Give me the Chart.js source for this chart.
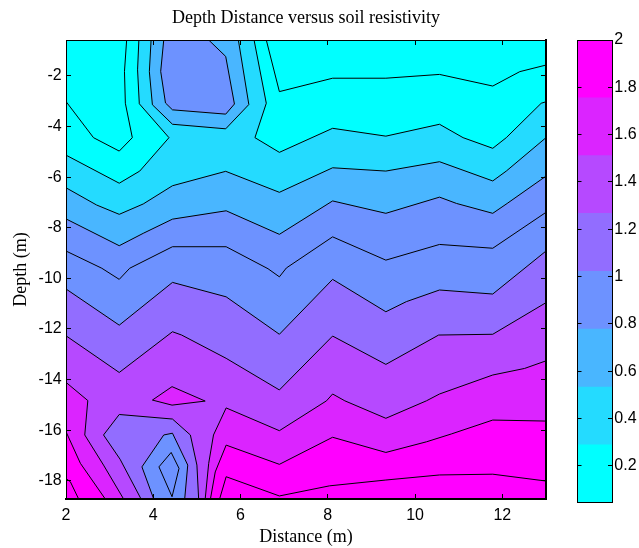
<!DOCTYPE html>
<html><head><meta charset="utf-8">
<script src="https://cdn.jsdelivr.net/npm/chart.js@4.4.1/dist/chart.umd.min.js"></script>
<style>
html,body{margin:0;padding:0;background:#fff;}
#wrap{position:relative;width:639px;height:548px;}
#main{position:absolute;left:0;top:0;}
#cb{position:absolute;left:560px;top:0;}
</style></head><body>
<div id="wrap"><canvas id="main" width="612" height="548"></canvas><canvas id="cb" width="79" height="548"></canvas></div>
<script>
// ---- data (distance m, depth m) ----
const xRange = [2, 13];
const yRange = [-18.72, -0.58];
const xTicks = [2, 4, 6, 8, 10, 12];
const yTicks = [-18, -16, -14, -12, -10, -8, -6, -4, -2];
const cbRange = [0.044, 2];
const cbTicks = [0.2, 0.4, 0.6, 0.8, 1, 1.2, 1.4, 1.6, 1.8, 2];
const cbEdges = [0.044, 0.289, 0.533, 0.778, 1.022, 1.267, 1.511, 1.756, 2.0];

// contour lines
const lineA  = [[2,-3.01],[2.63,-4.44],[3.22,-4.97],[3.52,-4.44],[3.36,-3.08],[3.34,-1.82],[3.39,-0.58]];
const lineB  = [[2,-5.13],[3.22,-6.24],[3.69,-5.76],[4.36,-4.44],[3.68,-3.10],[3.64,-1.76],[3.67,-0.58]];
const ring   = [[3.95,-0.58],[3.91,-1.83],[3.98,-3.14],[4.44,-3.91],[5.66,-4.09],[6.19,-3.13],[5.95,-0.58]];
const innerBlob = [[4.24,-0.58],[4.17,-1.82],[4.28,-3.07],[4.44,-3.34],[5.66,-3.51],[5.86,-3.11],[5.66,-1.23],[5.27,-0.58]];
const lineT1 = [[6.59,-0.58],[6.89,-2.62],[8.11,-2.09],[9.33,-2.09],[10.56,-1.94],[11.78,-2.40],[12.40,-1.83],[13,-1.57]];
const lineT2 = [[6.31,-0.58],[6.59,-3.08],[6.33,-4.44],[6.89,-5.02],[8.11,-4.07],[9.33,-4.38],[10.56,-3.91],[11.10,-4.44],[11.78,-4.86],[12.09,-4.44],[12.89,-3.08],[13,-3.02]];
const lineT3 = [[2,-6.42],[2.70,-7.10],[3.22,-7.47],[3.77,-7.06],[4.44,-6.34],[5.66,-5.77],[6.89,-6.60],[8.11,-5.63],[9.33,-5.76],[10.56,-5.39],[11.78,-6.15],[12.09,-5.76],[13,-4.44]];
const lineT4 = [[2,-7.65],[3.22,-8.71],[3.77,-8.22],[4.44,-7.66],[5.67,-7.33],[6.89,-8.26],[8.11,-6.94],[9.33,-7.43],[10.56,-6.79],[10.95,-7.04],[11.78,-7.43],[12.11,-7.04],[13,-5.96]];
const lineT5 = [[2,-8.92],[2.82,-9.60],[3.22,-10.04],[3.46,-9.60],[4.44,-8.75],[5.67,-8.75],[6.63,-9.62],[6.89,-9.94],[7.05,-9.59],[8.11,-8.36],[9.33,-9.28],[10.56,-8.66],[11.78,-8.81],[13,-7.39]];
const lineT6 = [[2,-10.42],[3.22,-11.85],[4.44,-10.16],[5.67,-10.73],[6.89,-12.21],[8.11,-10.04],[9.33,-11.32],[9.80,-10.92],[10.56,-10.46],[11.78,-10.62],[13,-8.92]];
const lineT7 = [[2,-12.27],[3.22,-13.72],[4.44,-12.11],[4.65,-12.24],[5.67,-13.16],[6.89,-14.41],[8.11,-12.28],[9.33,-13.40],[10.54,-12.24],[11.78,-12.21],[13,-10.96]];
const lineT8 = [[13,-13.26],[12.51,-13.56],[11.78,-13.82],[10.56,-14.57],[10.26,-14.84],[9.33,-15.53],[8.39,-14.84],[8.11,-14.57],[7.97,-14.84],[6.89,-16.02],[5.67,-15.12],[5.38,-16.19],[5.27,-17.31],[5.19,-18.72]];
const lineLa = [[2,-14.11],[2.50,-14.83],[2.43,-16.19],[2.86,-17.38],[3.32,-18.72]];
const triangle = [[3.98,-14.81],[4.43,-14.28],[5.19,-14.85],[4.43,-15.01],[3.98,-14.81]];
const lineT9 = [[13,-15.64],[11.78,-15.60],[10.83,-16.15],[10.26,-16.46],[9.33,-16.88],[8.11,-16.28],[6.89,-17.35],[5.67,-16.59],[5.42,-17.65],[5.31,-18.72]];
const lineLb = [[2,-16.06],[2.33,-17.31],[2.90,-18.72]];
const lineLc = [[2,-17.91],[2.10,-18.04],[2.29,-18.72]];
const lineT10 = [[13,-18.01],[11.78,-17.74],[10.56,-17.77],[9.33,-17.97],[8.04,-18.20],[6.89,-18.60],[5.67,-17.84],[5.52,-18.72]];
const blobOuter = [[3.72,-18.72],[3.24,-17.15],[2.86,-16.19],[3.22,-15.38],[4.44,-15.56],[4.85,-16.19],[5.00,-17.38],[5.04,-18.72]];
const blobMid = [[4.01,-18.72],[3.74,-17.45],[4.24,-16.19],[4.44,-16.12],[4.79,-17.38],[4.72,-18.72]];
const diamond = [[4.13,-17.45],[4.41,-16.88],[4.59,-17.51],[4.43,-18.63],[4.13,-17.45]];

// ---- styles ----
const bandColors = ['rgb(0,255,255)','rgb(36,219,255)','rgb(73,182,255)','rgb(109,146,255)',
                    'rgb(146,109,255)','rgb(182,73,255)','rgb(219,36,255)','rgb(255,0,255)'];
const TXT = '#000';
const tickFont = {family: "'Liberation Sans', Arial, sans-serif", size: 16};
const serifFont = {family: "'Liberation Serif', 'Times New Roman', serif", size: 18, weight: 'normal'};
const fmt = v => String(Math.round(v * 100) / 100);

// ---- filled regions (painter order), built from the lines ----
const L = xRange[0], R = xRange[1], BOT = yRange[0], TOP = yRange[1];
const regions = [
  {pts: [[L,TOP],[R,TOP],[R,BOT],[L,BOT]], c: 0},
  {pts: [...lineB, ...lineT2, [R,BOT], [L,BOT]], c: 1},
  {pts: [...lineT3, [R,BOT], [L,BOT]], c: 2},
  {pts: ring, c: 2},
  {pts: [...lineT4, [R,BOT], [L,BOT]], c: 3},
  {pts: innerBlob, c: 3},
  {pts: [...lineT6, [R,BOT], [L,BOT]], c: 4},
  {pts: [...lineT7, [R,BOT], [L,BOT]], c: 5},
  {pts: blobOuter, c: 4},
  {pts: blobMid, c: 3},
  {pts: [...lineT8, [R,BOT]], c: 6},
  {pts: [...lineLa, [L,BOT]], c: 6},
  {pts: triangle, c: 6},
  {pts: [...lineT9, [R,BOT]], c: 7},
  {pts: [...lineLb, [L,BOT]], c: 7}
];
const contourLines = [lineA, lineB, ring, innerBlob, lineT1, lineT2, lineT3, lineT4, lineT5, lineT6, lineT7,
  lineT8, lineLa, triangle, lineT9, lineLb, lineLc, lineT10, blobOuter, blobMid, diamond];

const toXY = a => a.map(([x, y]) => ({x, y}));
const datasets = [];
regions.forEach(r => datasets.push({
  data: toXY([...r.pts, r.pts[0]]), fill: 'shape', backgroundColor: bandColors[r.c],
  borderColor: 'rgba(0,0,0,0)', borderWidth: 0, pointRadius: 0, pointHitRadius: 0, tension: 0
}));
contourLines.forEach(l => datasets.push({
  data: toXY(l), fill: false, borderColor: '#000', borderWidth: 1, pointRadius: 0, pointHitRadius: 0, tension: 0
}));
datasets.forEach((d, i) => { d.order = datasets.length - i; });

const grid = {drawOnChartArea: false, tickLength: -5, color: TXT, z: 1};
const setTicks = arr => s => { s.ticks = arr.map(v => ({value: v})); };

new Chart(document.getElementById('main'), {
  type: 'line',
  data: {datasets},
  options: {
    responsive: false, animation: false, events: [],
    layout: {padding: 0},
    plugins: {
      legend: {display: false}, tooltip: {enabled: false},
      title: {display: true, text: 'Depth Distance versus soil resistivity', font: serifFont, color: TXT,
              padding: {top: 7.2, bottom: 0}}
    },
    scales: {
      x: {type: 'linear', position: 'bottom', min: xRange[0], max: xRange[1],
          afterBuildTicks: setTicks(xTicks), afterFit: s => { s.height = 49; },
          ticks: {font: tickFont, color: TXT, padding: 12.4, callback: fmt, autoSkip: false, maxRotation: 0},
          grid: grid, border: {color: TXT, width: 2, z: 1},
          title: {display: true, text: 'Distance (m)', font: serifFont, color: TXT, padding: {top: 0, bottom: 0}}},
      x2: {type: 'linear', position: 'top', min: xRange[0], max: xRange[1],
          afterBuildTicks: setTicks(xTicks), afterFit: s => { s.height = 11.2; },
          ticks: {display: false}, grid: grid, border: {color: TXT, width: 1, z: 1}},
      y: {type: 'linear', position: 'left', min: yRange[0], max: yRange[1],
          afterBuildTicks: setTicks(yTicks), afterFit: s => { s.width = 66; },
          ticks: {font: tickFont, color: TXT, padding: 9.3, callback: fmt, autoSkip: false},
          grid: grid, border: {color: TXT, width: 1, z: 1},
          title: {display: true, text: 'Depth (m)', font: serifFont, color: TXT, padding: {top: 10, bottom: 0}}},
      y2: {type: 'linear', position: 'right', min: yRange[0], max: yRange[1],
          afterBuildTicks: setTicks(yTicks), afterFit: s => { s.width = 66; },
          ticks: {display: false}, grid: grid, border: {color: TXT, width: 2, z: 1}}
    }
  }
});

// ---- colorbar ----
const cbGrid = {drawOnChartArea: false, tickLength: -4, color: TXT, z: 1};
new Chart(document.getElementById('cb'), {
  type: 'bar',
  data: {
    labels: ['cb'],
    datasets: cbEdges.slice(0, -1).map((lo, i) => ({
      data: [[lo, cbEdges[i + 1]]], backgroundColor: bandColors[i], borderWidth: 0,
      barPercentage: 1, categoryPercentage: 1, grouped: false
    }))
  },
  options: {
    responsive: false, animation: false, events: [],
    layout: {padding: 0},
    plugins: {legend: {display: false}, tooltip: {enabled: false}, title: {display: false}},
    scales: {
      x: {type: 'category', position: 'bottom', afterFit: s => { s.height = 45.3; },
          ticks: {display: false}, grid: {display: false}, border: {display: true, color: TXT, width: 1, z: 1}},
      xt: {type: 'category', position: 'top', afterFit: s => { s.height = 40; },
          ticks: {display: false}, grid: {display: false}, border: {display: true, color: TXT, width: 1, z: 1}},
      y: {type: 'linear', position: 'right', min: cbRange[0], max: cbRange[1],
          afterBuildTicks: setTicks(cbTicks), afterFit: s => { s.width = 27; },
          ticks: {font: tickFont, color: TXT, padding: 6.3, callback: fmt, autoSkip: false},
          grid: cbGrid, border: {color: TXT, width: 1, z: 1}},
      yl: {type: 'linear', position: 'left', min: cbRange[0], max: cbRange[1],
          afterBuildTicks: setTicks(cbTicks), afterFit: s => { s.width = 17.5; },
          ticks: {display: false}, grid: cbGrid, border: {color: TXT, width: 1, z: 1}}
    }
  }
});
</script></body></html>
